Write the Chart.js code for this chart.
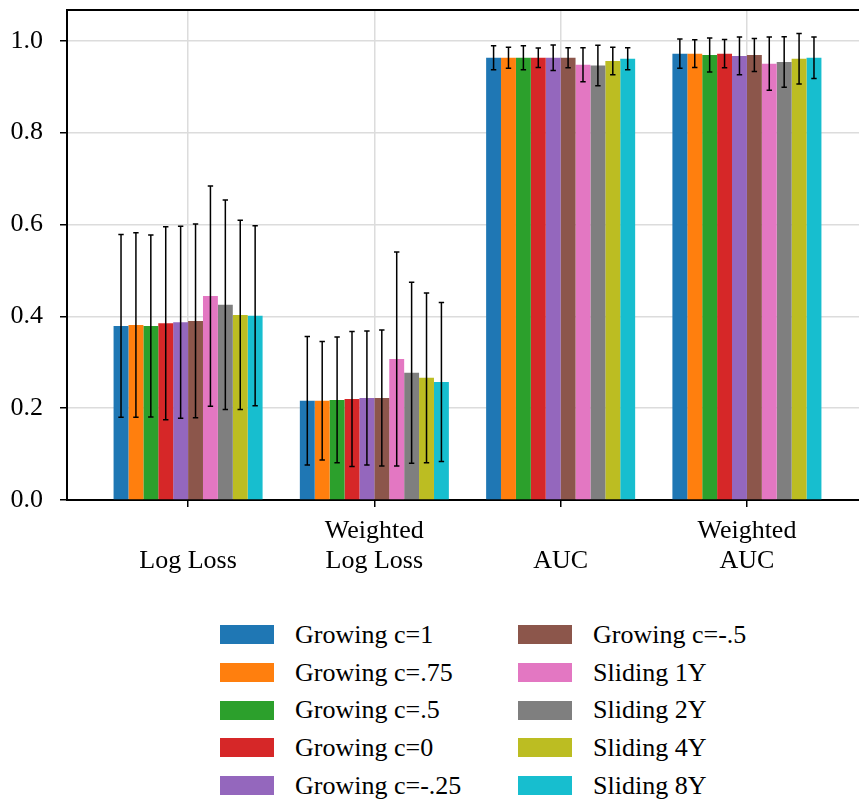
<!DOCTYPE html>
<html>
<head>
<meta charset="utf-8">
<script src="https://cdn.jsdelivr.net/npm/chart.js@4/dist/chart.umd.min.js"></script>
<style>
  html, body { margin: 0; padding: 0; background: #fff; width: 859px; height: 805px; overflow: hidden; }
  #wrap { position: absolute; left: 0; top: 0; width: 880px; height: 600px; }
  #legend {
    position: absolute; left: 220px; top: 616px;
    display: grid; grid-template-columns: 298px 260px; grid-auto-flow: column;
    grid-template-rows: repeat(5, 37.7px);
    font-family: "Liberation Serif", "Times New Roman", serif; font-size: 26px; color: #000;
  }
  .item { display: flex; align-items: center; height: 37.7px; white-space: nowrap; }
  .swatch { width: 54px; height: 19px; margin-right: 21px; flex: none; }
</style>
</head>
<body>
<div id="wrap"><canvas id="c" width="880" height="600"></canvas></div>
<div id="legend"></div>
<script>
// Metric categories along the x axis (first line left blank on single-line labels)
const categories = [["", "Log Loss"], ["Weighted", "Log Loss"], ["", "AUC"], ["Weighted", "AUC"]];
const yTicks = [0.0, 0.2, 0.4, 0.6, 0.8, 1.0];

// Mean score per metric: [Log Loss, Weighted Log Loss, AUC, Weighted AUC]
const growingC1     = [0.379, 0.216, 0.963, 0.972];
const growingC075   = [0.381, 0.216, 0.963, 0.972];
const growingC05    = [0.379, 0.218, 0.963, 0.969];
const growingC0     = [0.385, 0.220, 0.963, 0.972];
const growingCm025  = [0.387, 0.222, 0.963, 0.967];
const growingCm05   = [0.390, 0.222, 0.963, 0.969];
const sliding1Y     = [0.444, 0.307, 0.948, 0.950];
const sliding2Y     = [0.425, 0.277, 0.946, 0.954];
const sliding4Y     = [0.403, 0.266, 0.956, 0.961];
const sliding8Y     = [0.401, 0.257, 0.961, 0.963];

// Standard deviation per metric (error bar half-length)
const growingC1Err    = [0.199, 0.140, 0.026, 0.032];
const growingC075Err  = [0.201, 0.129, 0.023, 0.030];
const growingC05Err   = [0.198, 0.137, 0.026, 0.037];
const growingC0Err    = [0.210, 0.147, 0.021, 0.031];
const growingCm025Err = [0.209, 0.146, 0.028, 0.041];
const growingCm05Err  = [0.211, 0.148, 0.022, 0.036];
const sliding1YErr    = [0.240, 0.233, 0.037, 0.058];
const sliding2YErr    = [0.228, 0.197, 0.044, 0.055];
const sliding4YErr    = [0.206, 0.185, 0.030, 0.055];
const sliding8YErr    = [0.196, 0.173, 0.024, 0.045];

const seriesNames = ["Growing c=1", "Growing c=.75", "Growing c=.5", "Growing c=0", "Growing c=-.25",
                     "Growing c=-.5", "Sliding 1Y", "Sliding 2Y", "Sliding 4Y", "Sliding 8Y"];
const seriesValues = [growingC1, growingC075, growingC05, growingC0, growingCm025,
                      growingCm05, sliding1Y, sliding2Y, sliding4Y, sliding8Y];
const seriesErrors = [growingC1Err, growingC075Err, growingC05Err, growingC0Err, growingCm025Err,
                      growingCm05Err, sliding1YErr, sliding2YErr, sliding4YErr, sliding8YErr];
const palette = ["#1f77b4", "#ff7f0e", "#2ca02c", "#d62728", "#9467bd",
                 "#8c564b", "#e377c2", "#7f7f7f", "#bcbd22", "#17becf"];

const FAMILY = "'Liberation Serif', 'Times New Roman', serif";

// Draws symmetric error bars on each bar using the value scale, plus the top frame line
const errorBars = {
  id: "errorBars",
  afterDatasetsDraw(chart) {
    const ctx = chart.ctx;
    const ys = chart.scales.y;
    const area = chart.chartArea;
    ctx.save();
    ctx.strokeStyle = "#000";
    ctx.lineWidth = 2;
    ctx.beginPath();
    ctx.moveTo(area.left - 1, area.top);
    ctx.lineTo(area.right, area.top);
    ctx.stroke();

    ctx.lineWidth = 1.5;
    chart.data.datasets.forEach((ds, d) => {
      const meta = chart.getDatasetMeta(d);
      meta.data.forEach((bar, i) => {
        const v = seriesValues[d][i], e = seriesErrors[d][i];
        const top = ys.getPixelForValue(v + e);
        const bot = ys.getPixelForValue(v - e);
        const cap = 2.7;
        ctx.beginPath();
        ctx.moveTo(bar.x, top); ctx.lineTo(bar.x, bot);
        ctx.moveTo(bar.x - cap, top); ctx.lineTo(bar.x + cap, top);
        ctx.moveTo(bar.x - cap, bot); ctx.lineTo(bar.x + cap, bot);
        ctx.stroke();
      });
    });
    ctx.restore();
  }
};

const chart = new Chart(document.getElementById("c"), {
  type: "bar",
  data: {
    datasets: seriesNames.map((name, d) => ({
      label: name,
      data: seriesValues[d].map((v, i) => ({ x: i, y: v })),
      backgroundColor: palette[d],
      borderWidth: 0,
      categoryPercentage: 0.8,
      barPercentage: 1.0
    }))
  },
  options: {
    responsive: false,
    animation: false,
    layout: { padding: { top: 0, left: 0, right: 12, bottom: 0 } },
    plugins: { legend: { display: false }, tooltip: { enabled: false } },
    scales: {
      x: {
        type: "linear",
        offset: false,
        min: -0.65, max: 3.65,
        afterBuildTicks: (axis) => { axis.ticks = categories.map((c, i) => ({ value: i })); },
        afterFit: (axis) => { axis.height = 100; },
        ticks: {
          callback: (v) => categories[v],
          font: { family: FAMILY, size: 26, lineHeight: 1.12 },
          color: "#000", padding: 10, maxRotation: 0, autoSkip: false
        },
        grid: { offset: false, color: "#dcdcdc", lineWidth: 1.5, tickColor: "#000", tickWidth: 1.5, tickLength: 7 },
        border: { display: true, color: "#000", width: 2 }
      },
      y: {
        min: 0, max: 1.067,
        afterBuildTicks: (axis) => { axis.ticks = yTicks.map(v => ({ value: v })); },
        afterFit: (axis) => { axis.width = 67; axis.paddingTop = 10; axis.paddingBottom = 0; },
        ticks: {
          callback: (v) => v.toFixed(1),
          font: { family: FAMILY, size: 26 },
          color: "#000", padding: 17
        },
        grid: { color: "#dcdcdc", lineWidth: 1.5, tickColor: "#000", tickWidth: 1.5, tickLength: 7 },
        border: { display: true, color: "#000", width: 2 }
      }
    }
  },
  plugins: [errorBars]
});

// Two-column legend, filled column by column
const legend = document.getElementById("legend");
chart.data.datasets.forEach((ds) => {
  const item = document.createElement("div");
  item.className = "item";
  const sw = document.createElement("span");
  sw.className = "swatch";
  sw.style.background = ds.backgroundColor;
  const tx = document.createElement("span");
  tx.textContent = ds.label;
  item.appendChild(sw); item.appendChild(tx);
  legend.appendChild(item);
});
</script>
</body>
</html>
